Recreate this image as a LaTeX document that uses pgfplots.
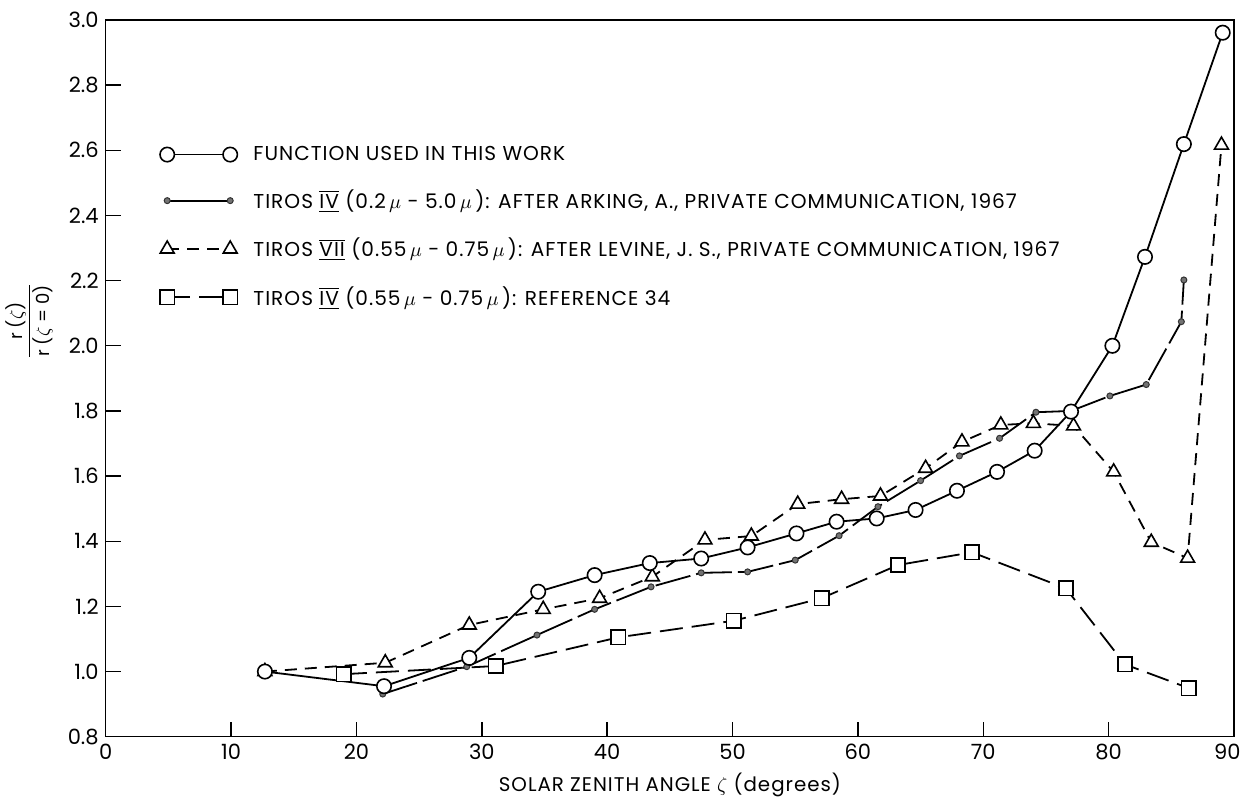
\documentclass[border=0pt]{standalone}
\usepackage{pgfplots}
\pgfplotsset{compat=1.18}
\usepackage{fontspec}
\setmainfont{Poppins}
\newfontfamily\keyfont[LetterSpace=5]{Poppins}
\usetikzlibrary{calc}

% Roman numeral with bars above and below
\newcommand{\rn}[1]{\ensuremath{\overline{\underline{\mbox{#1}}}}}
\newcommand{\mum}{\,$\mu$}

% r(zeta)/r(zeta=0): function used in this work
\pgfplotstableread{
x y
12.7 1.000
22.2 0.955
29.0 1.042
34.5 1.245
39.0 1.296
43.4 1.333
47.5 1.347
51.2 1.381
55.1 1.424
58.3 1.460
61.5 1.470
64.6 1.496
67.9 1.555
71.1 1.613
74.1 1.678
77.0 1.798
80.3 2.000
82.9 2.273
86.0 2.619
89.1 2.961
}\fnctab

% TIROS IV (0.2-5.0 mu), Arking
\pgfplotstableread{
x y
22.1 0.931
28.8 1.015
34.4 1.112
39.0 1.191
43.5 1.260
47.5 1.303
51.2 1.306
55.0 1.342
58.5 1.417
61.6 1.506
65.0 1.586
68.1 1.662
71.3 1.716
74.2 1.796
77.0 1.800
80.1 1.846
83.0 1.881
85.8 2.074
86.0 2.202
}\arkingtab

% TIROS VII (0.55-0.75 mu), Levine
\pgfplotstableread{
x y
12.7 1.000
22.3 1.027
29.0 1.143
34.9 1.191
39.4 1.225
43.6 1.291
47.8 1.404
51.5 1.416
55.2 1.514
58.7 1.529
61.8 1.539
65.4 1.624
68.3 1.705
71.4 1.757
74.0 1.762
77.2 1.754
80.4 1.613
83.4 1.397
86.3 1.348
89.0 2.616
}\levinetab

% TIROS IV (0.55-0.75 mu), reference 34
\pgfplotstableread{
x y
19.0 0.992
31.1 1.017
40.9 1.105
50.1 1.156
57.1 1.225
63.2 1.327
69.1 1.366
76.6 1.255
81.3 1.022
86.4 0.949
}\reftab

\pgfplotsset{
  fncstyle/.style={black, line width=0.9pt,
    mark=*, mark size=3.6pt, mark options={solid, fill=white, line width=0.8pt}},
  arkstyle/.style={black, line width=0.9pt, dash pattern=on 18pt off 3pt,
    mark=*, mark size=1.5pt, mark options={solid, fill=black!55, draw=black!80, line width=0.5pt}},
  levstyle/.style={black, line width=0.9pt, dash pattern=on 6pt off 4pt,
    mark=triangle*, mark size=4pt, mark options={solid, fill=white, line width=0.8pt}},
  refstyle/.style={black, line width=0.9pt, dash pattern=on 11.5pt off 4.5pt,
    mark=square*, mark size=3.6pt, mark options={solid, fill=white, line width=0.8pt}},
}

\begin{document}
\begin{tikzpicture}
\begin{axis}[
  name=ax,
  scale only axis,
  width=564.15pt, height=358.35pt,
  xmin=0, xmax=90, ymin=0.8, ymax=3.0,
  axis line style={line width=0.7pt},
  xtick={0,10,20,30,40,50,60,70,80,90},
  xticklabels={0,10,20,30,40,50,60,70,80,90\hphantom{0}},
  ytick={0.8,1.0,1.2,1.4,1.6,1.8,2.0,2.2,2.4,2.6,2.8,3.0},
  tick align=inside,
  xtick pos=bottom, ytick pos=left,
  major tick length=7.5pt,
  tick style={line width=0.7pt, black},
  /pgf/number format/assume math mode=true,
  tick label style={font=\fontsize{10.5}{12}\selectfont},
  yticklabel style={/pgf/number format/.cd, fixed, fixed zerofill, precision=1},
  xlabel={SOLAR ZENITH ANGLE $\zeta$ (degrees)},
  every axis x label/.style={at={(rel axis cs:0.5,0)}, anchor=center, yshift=-24pt, font=\keyfont\fontsize{9.9}{12}\selectfont},
  ylabel={$\displaystyle\frac{\mbox{r (}\zeta\mbox{)}}{\mbox{r (}\zeta\mbox{ = 0)}}$},
  every axis y label/.style={at={(rel axis cs:-0.068,0.58)}, anchor=center, rotate=90, font=\fontsize{9}{11}\selectfont},
  legend image code/.code={\draw[#1] plot coordinates {(0pt,0pt) (31.5pt,0pt)};},
  legend cell align=left,
  legend style={draw=none, fill=none, at={(axis cs:4.3,2.59)}, anchor=north west, yshift=5pt,
    inner sep=0pt, row sep=11.3pt, font=\keyfont\fontsize{10.05}{12}\selectfont,
    nodes={inner sep=1pt},
    /tikz/every odd column/.append style={column sep=7pt}},
  clip=false,
]
% curves; the open circles go last so that they sit on top
\addplot[arkstyle, forget plot] table[x=x, y=y] {\arkingtab};
\addplot[levstyle, forget plot] table[x=x, y=y] {\levinetab};
\addplot[refstyle, forget plot] table[x=x, y=y] {\reftab};
\addplot[fncstyle, forget plot] table[x=x, y=y] {\fnctab};

% key
\addlegendimage{fncstyle}
\addlegendentry{FUNCTION USED IN THIS WORK}
\addlegendimage{arkstyle, solid}
\addlegendentry{TIROS \rn{IV} (0.2\mum\ - 5.0\mum\,): AFTER ARKING, A., PRIVATE COMMUNICATION, 1967}
\addlegendimage{levstyle}
\addlegendentry{TIROS \rn{VII} (0.55\mum\ - 0.75\mum\,): AFTER LEVINE, J. S., PRIVATE COMMUNICATION, 1967}
\addlegendimage{refstyle}
\addlegendentry{TIROS \rn{IV} (0.55\mum\ - 0.75\mum\,): REFERENCE 34}
\end{axis}
\pgfresetboundingbox
\path[use as bounding box] ($(ax.south west)+(-52.85pt,-34.15pt)$) rectangle ($(ax.north east)+(4pt,10pt)$);
\end{tikzpicture}
\end{document}
